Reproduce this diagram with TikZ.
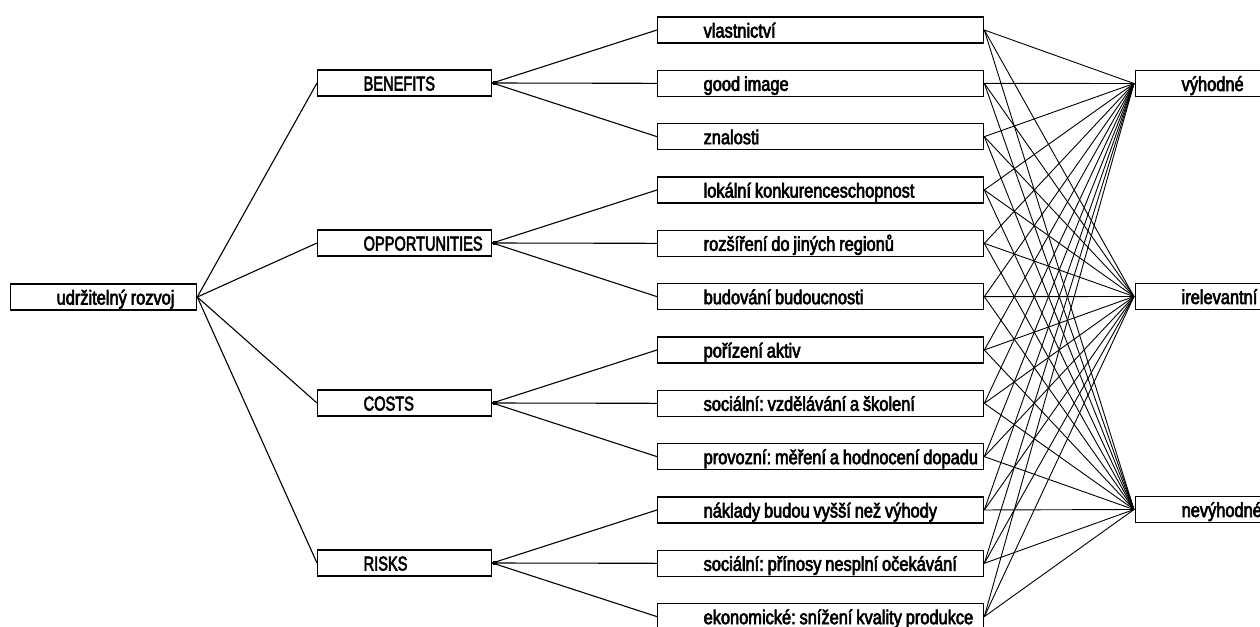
\documentclass[tikz,border=0pt]{standalone}
\usepackage{fontspec}
\setmainfont{Liberation Sans}[FakeStretch=0.82, FakeBold=3, WordSpace=0.85]
\newcommand\boxtext[2]{\makebox[#1][l]{\hspace*{46pt}#2}}
\newcommand\captext[1]{\scalebox{0.89}[1]{#1}}
\begin{document}
\frenchspacing
\begin{tikzpicture}[x=1pt,y=-1pt,
  box/.style={draw, line width=1.3pt, anchor=west, inner xsep=0pt, inner ysep=0pt,
    minimum height=26pt, text height=15pt, text depth=0pt,
    font=\fontsize{20}{22}\selectfont},
  con/.style={line width=1.1pt},
  hub/.style={fill=black}]
\useasboundingbox (0,0) rectangle (1260,626);
\clip (0,0) rectangle (1260,626);
% root
\node[box] (r) at (10,297) {\boxtext{186pt}{udržitelný rozvoj}};
% level 2
\node[box] (b1) at (317,83) {\boxtext{174pt}{\captext{BENEFITS}}};
\node[box] (b2) at (317,243) {\boxtext{174pt}{\captext{OPPORTUNITIES}}};
\node[box] (b3) at (317,403) {\boxtext{174pt}{\captext{COSTS}}};
\node[box] (b4) at (317,563) {\boxtext{174pt}{\captext{RISKS}}};
% level 3
\foreach \i/\t in {1/vlastnictví, 2/good image, 3/znalosti,
  4/lokální konkurenceschopnost, 5/rozšíření do jiných regionů, 6/budování budoucnosti,
  7/pořízení aktiv, 8/sociální: vzdělávání a školení, 9/provozní: měření a hodnocení dopadu,
  10/náklady budou vyšší než výhody, 11/sociální: přínosy nesplní očekávání,
  12/ekonomické: snížení kvality produkce}
  \node[box] (c\i) at (657,{30+53.33*(\i-1)}) {\boxtext{326pt}{\t}};
% outcomes
\node[box] (o1) at (1135,83.5) {\boxtext{140pt}{výhodné}};
\node[box] (o2) at (1135,296.5) {\boxtext{140pt}{irelevantní}};
\node[box] (o3) at (1135,509.5) {\boxtext{140pt}{nevýhodné}};
% connectors
\foreach \j in {1,...,4} \draw[con] (r.east) -- (b\j.west);
\foreach \j/\a/\b/\c in {1/1/2/3, 2/4/5/6, 3/7/8/9, 4/10/11/12} {
  \draw[con] (b\j.east) -- (c\a.west);
  \draw[con] (b\j.east) -- (c\b.west);
  \draw[con] (b\j.east) -- (c\c.west);
  \fill[hub] ([xshift=0.5pt]b\j.east) ++(0,-2) rectangle ++(4,4);
}
\foreach \i in {1,...,12}
  \foreach \k in {1,2,3}
    \draw[con, line width=0.9pt] (c\i.east) -- ([xshift=-1pt]o\k.west);
\end{tikzpicture}
\end{document}
